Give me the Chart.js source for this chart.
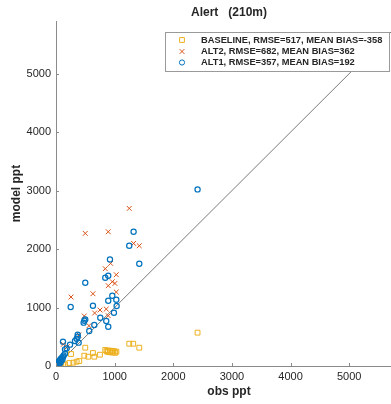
<!DOCTYPE html>
<html>
<head>
<meta charset="utf-8">
<script src="https://cdn.jsdelivr.net/npm/chart.js@4"></script>
<style>
  html, body { margin: 0; padding: 0; overflow: hidden; background: #fff; }
  canvas { display: block; }
</style>
</head>
<body>
<canvas id="scatterChart" width="420" height="404"></canvas>
<script>
// values
const titleText = "Alert   (210m)";
const tickVals = [0, 1000, 2000, 3000, 4000, 5000];
const axisMax = 5900;

const baselineLabel = "BASELINE, RMSE=517, MEAN BIAS=-358";
const alt2Label = "ALT2, RMSE=682, MEAN BIAS=362";
const alt1Label = "ALT1, RMSE=357, MEAN BIAS=192";

const baselineObs = [2414, 1249, 1317, 1420, 499, 256, 630, 482, 550, 653, 750, 840, 862, 890, 920, 950, 975, 1000, 1030, 880, 920, 960, 1010, 397, 352, 296, 227, 153, 120, 90, 60, 40, 20, 10];
const baselineModel = [570, 381, 381, 313, 313, 205, 222, 176, 159, 159, 193, 274, 256, 265, 262, 255, 258, 250, 245, 240, 235, 230, 225, 85, 74, 57, 51, 28, 20, 15, 10, 8, 5, 2];

const alt2Obs = [1249, 499, 891, 1323, 1420, 931, 840, 1028, 960, 891, 1005, 1028, 630, 256, 659, 750, 857, 891, 482, 562, 392, 125, 193, 40, 80, 20];
const alt2Model = [2695, 2268, 2296, 2097, 2057, 1755, 1664, 1561, 1441, 1373, 1412, 1265, 1236, 1179, 906, 957, 974, 860, 855, 689, 530, 371, 330, 60, 110, 30];

const alt1Obs = [2414, 1323, 1249, 1420, 920, 891, 840, 499, 250, 630, 960, 1028, 891, 1034, 988, 755, 653, 567, 857, 891, 482, 499, 471, 370, 370, 352, 324, 386, 119, 239, 182, 153, 153,
                 10, 20, 30, 40, 50, 60, 70, 80, 90, 100, 110, 25, 15, 35, 45, 55, 65, 75, 120, 130, 5, 8];
const alt1Model = [3020, 2296, 2057, 1749, 1823, 1544, 1510, 1424, 1009, 1031, 1202, 1134, 1117, 1026, 911, 826, 701, 598, 769, 672, 775, 797, 741, 536, 501, 467, 427, 399, 416, 365, 302, 285, 211,
                   20, 40, 30, 60, 80, 50, 100, 120, 90, 140, 110, 10, 15, 45, 25, 65, 75, 55, 160, 180, 5, 30];

const oneToOne = [0, axisMax];

const toPoints = (xs, ys) => xs.map((x, i) => ({ x: x, y: ys[i] }));

const fontFamily = "'Liberation Sans', Arial, sans-serif";
const tickFont = { family: fontFamily, size: 11 };
const textColor = "#262626";
const axisColor = "#8a8a8a";

// draws the title, the inward tick marks and the boxed legend
const matlabLook = {
    id: "matlabLook",
    afterDraw(chart) {
        const ctx = chart.ctx;
        const area = chart.chartArea;
        const xs = chart.scales.x;
        const ys = chart.scales.y;
        ctx.save();

        // inward ticks
        ctx.strokeStyle = axisColor;
        ctx.lineWidth = 1;
        tickVals.forEach(v => {
            const px = Math.round(xs.getPixelForValue(v)) + 0.5;
            ctx.beginPath();
            ctx.moveTo(px, area.bottom);
            ctx.lineTo(px, area.bottom - 3);
            ctx.stroke();
            const py = Math.round(ys.getPixelForValue(v)) + 0.5;
            ctx.beginPath();
            ctx.moveTo(area.left, py);
            ctx.lineTo(area.left + 3, py);
            ctx.stroke();
        });

        // title
        ctx.fillStyle = textColor;
        ctx.font = "bold 12px " + fontFamily;
        ctx.textAlign = "center";
        ctx.textBaseline = "middle";
        ctx.fillText(titleText, (area.left + area.right) / 2, 13);

        // legend box
        const box = { left: 165.5, top: 32.5, right: 389.5, bottom: 71.5 };
        ctx.fillStyle = "#fff";
        ctx.fillRect(box.left, box.top, box.right - box.left, box.bottom - box.top);
        ctx.strokeStyle = "#9a9a9a";
        ctx.lineWidth = 1;
        ctx.strokeRect(box.left, box.top, box.right - box.left, box.bottom - box.top);

        const rowY = [40, 51.5, 62.5];
        ctx.font = "bold 9.3px " + fontFamily;
        ctx.textAlign = "left";
        ctx.textBaseline = "middle";
        [0, 1, 2].forEach(i => {
            const ds = chart.data.datasets[i];
            ctx.strokeStyle = ds.borderColor;
            ctx.fillStyle = "rgba(0,0,0,0)";
            ctx.lineWidth = 1;
            Chart.helpers.drawPoint(ctx, {
                pointStyle: ds.pointStyle,
                radius: ds.radius,
                rotation: 0,
                borderWidth: 1
            }, 182, rowY[i]);
            ctx.fillStyle = textColor;
            ctx.fillText(ds.label, 201, rowY[i]);
        });
        ctx.restore();
    }
};

const ctx = document.getElementById("scatterChart").getContext("2d");
new Chart(ctx, {
    type: "scatter",
    data: {
        datasets: [
            {
                label: baselineLabel,
                data: toPoints(baselineObs, baselineModel),
                pointStyle: "rect",
                radius: 3.4,
                borderColor: "#EDB120",
                backgroundColor: "rgba(0,0,0,0)",
                borderWidth: 1,
                order: 3
            },
            {
                label: alt2Label,
                data: toPoints(alt2Obs, alt2Model),
                pointStyle: "crossRot",
                radius: 3.4,
                borderColor: "#D95319",
                backgroundColor: "rgba(0,0,0,0)",
                borderWidth: 1,
                order: 2
            },
            {
                label: alt1Label,
                data: toPoints(alt1Obs, alt1Model),
                pointStyle: "circle",
                radius: 2.6,
                borderColor: "#0072BD",
                backgroundColor: "rgba(0,0,0,0)",
                borderWidth: 1.2,
                order: 1
            },
            {
                label: "1:1",
                type: "line",
                data: toPoints(oneToOne, oneToOne),
                borderColor: "#7a7a7a",
                borderWidth: 1,
                pointRadius: 0,
                fill: false,
                order: 4
            }
        ]
    },
    options: {
        responsive: false,
        animation: false,
        events: [],
        layout: { padding: { left: 0, top: 21, right: 18, bottom: 0 } },
        plugins: {
            legend: { display: false },
            title: { display: false },
            tooltip: { enabled: false }
        },
        scales: {
            x: {
                type: "linear",
                min: 0,
                max: axisMax,
                afterBuildTicks: scale => { scale.ticks = tickVals.map(v => ({ value: v })); },
                afterFit: scale => { scale.height = 38; },
                ticks: { font: tickFont, color: textColor, padding: 4, callback: v => String(v) },
                grid: { drawOnChartArea: false, drawTicks: false },
                border: { color: axisColor },
                title: {
                    display: true,
                    text: "obs ppt",
                    font: { family: fontFamily, size: 12, weight: "bold" },
                    color: textColor,
                    padding: { top: 0, bottom: 5 }
                }
            },
            y: {
                type: "linear",
                min: 0,
                max: axisMax,
                afterBuildTicks: scale => { scale.ticks = tickVals.map(v => ({ value: v })); },
                afterFit: scale => { scale.width = 56; },
                ticks: { font: tickFont, color: textColor, padding: 5, callback: v => String(v) },
                grid: { drawOnChartArea: false, drawTicks: false },
                border: { color: axisColor },
                title: {
                    display: true,
                    text: "model ppt",
                    font: { family: fontFamily, size: 12, weight: "bold" },
                    color: textColor,
                    padding: { top: 9, bottom: 0 }
                }
            }
        }
    },
    plugins: [matlabLook]
});
</script>
</body>
</html>
